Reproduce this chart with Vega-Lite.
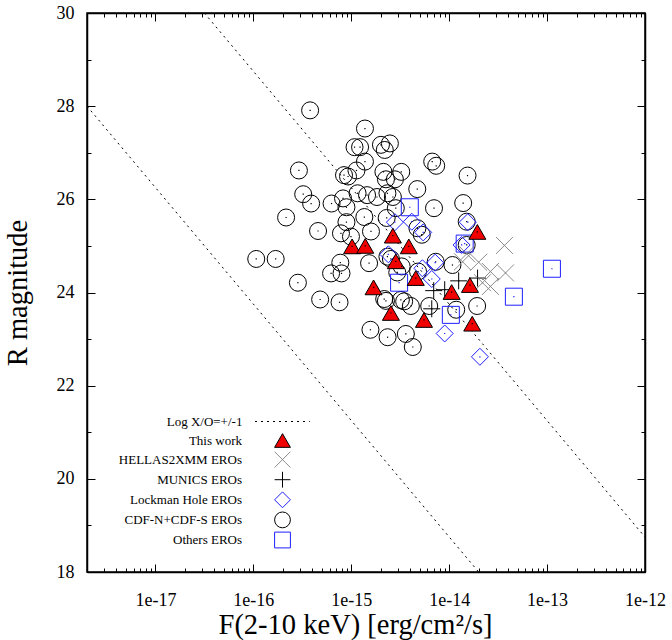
{
  "$schema": "https://vega.github.io/schema/vega-lite/v6.json",
  "autosize": {"type": "none"},
  "width": 558,
  "height": 559,
  "padding": {"left": 87, "top": 13, "right": 27, "bottom": 68},
  "background": "white",
  "config": {
    "font": "Liberation Serif",
    "view": {"stroke": "black", "strokeWidth": 1.5},
    "axis": {
      "grid": false,
      "domainColor": "black",
      "domainWidth": 1.5,
      "tickColor": "black",
      "tickWidth": 1,
      "labelColor": "black",
      "labelFont": "Liberation Serif",
      "labelFontSize": 18,
      "titleFont": "Liberation Serif",
      "titleFontSize": 28.5,
      "titleFontWeight": "normal",
      "titleColor": "black"
    }
  },
  "datasets": {
    "lines": [
      {"f": 3.16e-17, "R": 30, "k": "+1", "name": "Log X/O=+/-1"},
      {"f": 1e-12, "R": 18.75, "k": "+1", "name": "Log X/O=+/-1"},
      {"f": 2e-18, "R": 28.0, "k": "-1", "name": "Log X/O=+/-1"},
      {"f": 2e-14, "R": 18, "k": "-1", "name": "Log X/O=+/-1"}
    ],
    "pts": [
      {"f": 3.80e-16, "R": 27.91, "s": "CDF-N+CDF-S EROs"},
      {"f": 1.38e-15, "R": 27.52, "s": "CDF-N+CDF-S EROs"},
      {"f": 1.08e-15, "R": 27.12, "s": "CDF-N+CDF-S EROs"},
      {"f": 1.23e-15, "R": 27.12, "s": "CDF-N+CDF-S EROs"},
      {"f": 2.01e-15, "R": 27.17, "s": "CDF-N+CDF-S EROs"},
      {"f": 2.20e-15, "R": 27.06, "s": "CDF-N+CDF-S EROs"},
      {"f": 2.48e-15, "R": 27.20, "s": "CDF-N+CDF-S EROs"},
      {"f": 1.38e-15, "R": 26.81, "s": "CDF-N+CDF-S EROs"},
      {"f": 2.92e-16, "R": 26.62, "s": "CDF-N+CDF-S EROs"},
      {"f": 8.43e-16, "R": 26.52, "s": "CDF-N+CDF-S EROs"},
      {"f": 9.27e-16, "R": 26.49, "s": "CDF-N+CDF-S EROs"},
      {"f": 1.13e-15, "R": 26.62, "s": "CDF-N+CDF-S EROs"},
      {"f": 2.13e-15, "R": 26.59, "s": "CDF-N+CDF-S EROs"},
      {"f": 2.26e-15, "R": 26.43, "s": "CDF-N+CDF-S EROs"},
      {"f": 2.79e-15, "R": 26.43, "s": "CDF-N+CDF-S EROs"},
      {"f": 3.24e-15, "R": 26.59, "s": "CDF-N+CDF-S EROs"},
      {"f": 6.71e-15, "R": 26.81, "s": "CDF-N+CDF-S EROs"},
      {"f": 7.37e-15, "R": 26.72, "s": "CDF-N+CDF-S EROs"},
      {"f": 1.54e-14, "R": 26.51, "s": "CDF-N+CDF-S EROs"},
      {"f": 4.72e-15, "R": 26.22, "s": "CDF-N+CDF-S EROs"},
      {"f": 3.23e-16, "R": 26.11, "s": "CDF-N+CDF-S EROs"},
      {"f": 3.89e-16, "R": 25.91, "s": "CDF-N+CDF-S EROs"},
      {"f": 6.29e-16, "R": 25.91, "s": "CDF-N+CDF-S EROs"},
      {"f": 8.24e-16, "R": 26.02, "s": "CDF-N+CDF-S EROs"},
      {"f": 8.93e-16, "R": 25.83, "s": "CDF-N+CDF-S EROs"},
      {"f": 1.16e-15, "R": 26.13, "s": "CDF-N+CDF-S EROs"},
      {"f": 1.45e-15, "R": 26.09, "s": "CDF-N+CDF-S EROs"},
      {"f": 1.83e-15, "R": 26.05, "s": "CDF-N+CDF-S EROs"},
      {"f": 2.34e-15, "R": 26.13, "s": "CDF-N+CDF-S EROs"},
      {"f": 2.66e-15, "R": 26.05, "s": "CDF-N+CDF-S EROs"},
      {"f": 2.85e-15, "R": 25.81, "s": "CDF-N+CDF-S EROs"},
      {"f": 7.00e-15, "R": 25.81, "s": "CDF-N+CDF-S EROs"},
      {"f": 1.39e-14, "R": 25.92, "s": "CDF-N+CDF-S EROs"},
      {"f": 2.16e-16, "R": 25.61, "s": "CDF-N+CDF-S EROs"},
      {"f": 4.58e-16, "R": 25.32, "s": "CDF-N+CDF-S EROs"},
      {"f": 8.93e-16, "R": 25.51, "s": "CDF-N+CDF-S EROs"},
      {"f": 1.36e-15, "R": 25.62, "s": "CDF-N+CDF-S EROs"},
      {"f": 1.59e-15, "R": 25.31, "s": "CDF-N+CDF-S EROs"},
      {"f": 7.85e-16, "R": 25.27, "s": "CDF-N+CDF-S EROs"},
      {"f": 9.93e-16, "R": 25.20, "s": "CDF-N+CDF-S EROs"},
      {"f": 2.30e-15, "R": 25.60, "s": "CDF-N+CDF-S EROs"},
      {"f": 4.74e-15, "R": 25.38, "s": "CDF-N+CDF-S EROs"},
      {"f": 5.25e-15, "R": 25.24, "s": "CDF-N+CDF-S EROs"},
      {"f": 1.51e-14, "R": 25.52, "s": "CDF-N+CDF-S EROs"},
      {"f": 1.51e-14, "R": 25.02, "s": "CDF-N+CDF-S EROs"},
      {"f": 1.07e-16, "R": 24.72, "s": "CDF-N+CDF-S EROs"},
      {"f": 1.69e-16, "R": 24.72, "s": "CDF-N+CDF-S EROs"},
      {"f": 7.73e-16, "R": 24.64, "s": "CDF-N+CDF-S EROs"},
      {"f": 6.22e-16, "R": 24.41, "s": "CDF-N+CDF-S EROs"},
      {"f": 7.95e-16, "R": 24.41, "s": "CDF-N+CDF-S EROs"},
      {"f": 1.52e-15, "R": 24.63, "s": "CDF-N+CDF-S EROs"},
      {"f": 2.34e-15, "R": 24.77, "s": "CDF-N+CDF-S EROs"},
      {"f": 2.54e-15, "R": 24.72, "s": "CDF-N+CDF-S EROs"},
      {"f": 4.81e-15, "R": 24.45, "s": "CDF-N+CDF-S EROs"},
      {"f": 3.27e-15, "R": 24.56, "s": "CDF-N+CDF-S EROs"},
      {"f": 2.95e-15, "R": 24.43, "s": "CDF-N+CDF-S EROs"},
      {"f": 7.28e-15, "R": 24.66, "s": "CDF-N+CDF-S EROs"},
      {"f": 1.08e-14, "R": 24.59, "s": "CDF-N+CDF-S EROs"},
      {"f": 2.85e-16, "R": 24.21, "s": "CDF-N+CDF-S EROs"},
      {"f": 4.81e-16, "R": 23.85, "s": "CDF-N+CDF-S EROs"},
      {"f": 7.59e-16, "R": 23.79, "s": "CDF-N+CDF-S EROs"},
      {"f": 2.17e-15, "R": 23.86, "s": "CDF-N+CDF-S EROs"},
      {"f": 2.26e-15, "R": 23.82, "s": "CDF-N+CDF-S EROs"},
      {"f": 3.21e-15, "R": 23.84, "s": "CDF-N+CDF-S EROs"},
      {"f": 3.47e-15, "R": 23.81, "s": "CDF-N+CDF-S EROs"},
      {"f": 4.06e-15, "R": 23.71, "s": "CDF-N+CDF-S EROs"},
      {"f": 6.25e-15, "R": 23.71, "s": "CDF-N+CDF-S EROs"},
      {"f": 1.18e-14, "R": 23.63, "s": "CDF-N+CDF-S EROs"},
      {"f": 1.93e-14, "R": 23.71, "s": "CDF-N+CDF-S EROs"},
      {"f": 1.57e-15, "R": 23.20, "s": "CDF-N+CDF-S EROs"},
      {"f": 2.35e-15, "R": 23.04, "s": "CDF-N+CDF-S EROs"},
      {"f": 3.61e-15, "R": 23.11, "s": "CDF-N+CDF-S EROs"},
      {"f": 4.25e-15, "R": 22.83, "s": "CDF-N+CDF-S EROs"},
      {"f": 2.79e-15, "R": 25.51, "s": "Lockman Hole EROs"},
      {"f": 4.15e-15, "R": 25.52, "s": "Lockman Hole EROs"},
      {"f": 5.43e-15, "R": 25.29, "s": "Lockman Hole EROs"},
      {"f": 1.55e-14, "R": 25.51, "s": "Lockman Hole EROs"},
      {"f": 2.39e-15, "R": 24.82, "s": "Lockman Hole EROs"},
      {"f": 7.19e-15, "R": 24.64, "s": "Lockman Hole EROs"},
      {"f": 5.33e-15, "R": 24.52, "s": "Lockman Hole EROs"},
      {"f": 6.64e-15, "R": 24.29, "s": "Lockman Hole EROs"},
      {"f": 1.34e-14, "R": 25.02, "s": "Lockman Hole EROs"},
      {"f": 9.0e-15, "R": 23.12, "s": "Lockman Hole EROs"},
      {"f": 2.06e-14, "R": 22.62, "s": "Lockman Hole EROs"},
      {"f": 3.96e-15, "R": 25.83, "s": "Others EROs"},
      {"f": 1.44e-14, "R": 25.05, "s": "Others EROs"},
      {"f": 3.08e-15, "R": 24.21, "s": "Others EROs"},
      {"f": 1.04e-14, "R": 23.52, "s": "Others EROs"},
      {"f": 1.12e-13, "R": 24.51, "s": "Others EROs"},
      {"f": 4.58e-14, "R": 23.91, "s": "Others EROs"},
      {"f": 6.95e-15, "R": 24.04, "s": "MUNICS EROs"},
      {"f": 9.0e-15, "R": 24.06, "s": "MUNICS EROs"},
      {"f": 1.25e-14, "R": 24.25, "s": "MUNICS EROs"},
      {"f": 1.95e-14, "R": 24.31, "s": "MUNICS EROs"},
      {"f": 6.64e-15, "R": 23.65, "s": "MUNICS EROs"},
      {"f": 3.67e-14, "R": 25.01, "s": "HELLAS2XMM EROs"},
      {"f": 1.51e-14, "R": 24.83, "s": "HELLAS2XMM EROs"},
      {"f": 2.0e-14, "R": 24.65, "s": "HELLAS2XMM EROs"},
      {"f": 2.64e-14, "R": 24.45, "s": "HELLAS2XMM EROs"},
      {"f": 3.76e-14, "R": 24.42, "s": "HELLAS2XMM EROs"},
      {"f": 2.64e-14, "R": 24.13, "s": "HELLAS2XMM EROs"},
      {"f": 1.37e-14, "R": 24.66, "s": "HELLAS2XMM EROs"},
      {"f": 2.19e-14, "R": 24.21, "s": "HELLAS2XMM EROs"},
      {"f": 1.02e-15, "R": 24.99, "s": "This work"},
      {"f": 1.39e-15, "R": 25.0, "s": "This work"},
      {"f": 2.66e-15, "R": 25.22, "s": "This work"},
      {"f": 3.87e-15, "R": 24.99, "s": "This work"},
      {"f": 2.85e-15, "R": 24.67, "s": "This work"},
      {"f": 1.94e-14, "R": 25.30, "s": "This work"},
      {"f": 1.69e-15, "R": 24.11, "s": "This work"},
      {"f": 4.56e-15, "R": 24.31, "s": "This work"},
      {"f": 1.06e-14, "R": 24.01, "s": "This work"},
      {"f": 1.63e-14, "R": 24.16, "s": "This work"},
      {"f": 2.54e-15, "R": 23.56, "s": "This work"},
      {"f": 5.53e-15, "R": 23.41, "s": "This work"},
      {"f": 1.72e-14, "R": 23.33, "s": "This work"}
    ]
  },
  "layer": [
    {
      "data": {"name": "lines"},
      "mark": {"type": "line", "color": "black", "strokeWidth": 1, "clip": true},
      "encoding": {
        "x": {
          "field": "f", "type": "quantitative",
          "scale": {"type": "log", "domain": [2e-18, 1e-12], "nice": false},
          "axis": {
            "orient": "bottom",
            "title": "F(2-10 keV) [erg/cm²/s]",
            "titlePadding": -3,
            "titleX": 268,
            "values": [2e-18, 3e-18, 4e-18, 5e-18, 6e-18, 7e-18, 8e-18, 9e-18, 1e-17, 2e-17, 3e-17, 4e-17, 5e-17, 6e-17, 7e-17, 8e-17, 9e-17, 1e-16, 2e-16, 3e-16, 4e-16, 5e-16, 6e-16, 7e-16, 8e-16, 9e-16, 1e-15, 2e-15, 3e-15, 4e-15, 5e-15, 6e-15, 7e-15, 8e-15, 9e-15, 1e-14, 2e-14, 3e-14, 4e-14, 5e-14, 6e-14, 7e-14, 8e-14, 9e-14, 1e-13, 2e-13, 3e-13, 4e-13, 5e-13, 6e-13, 7e-13, 8e-13, 9e-13, 1e-12],
            "labelExpr": "abs(log(datum.value)/LN10 - round(log(datum.value)/LN10)) < 1e-6 ? format(datum.value, '.0e') : ''",
            "tickSize": {"condition": {"test": "abs(log(datum.value)/LN10 - round(log(datum.value)/LN10)) < 1e-6", "value": -8}, "value": -4},
            "labelPadding": 27,
            "labelOverlap": false,
            "labelFlush": false
          }
        },
        "y": {
          "field": "R", "type": "quantitative",
          "scale": {"domain": [18, 30], "nice": false, "zero": false},
          "axis": {
            "orient": "left",
            "title": "R magnitude",
            "titlePadding": 24,
            "values": [18, 19, 20, 21, 22, 23, 24, 25, 26, 27, 28, 29, 30],
            "labelExpr": "datum.value % 2 === 0 ? datum.label : ''",
            "tickSize": {"condition": {"test": "datum.value % 2 === 0", "value": -8}, "value": -4},
            "labelPadding": 21,
            "labelOverlap": false,
            "labelFlush": false
          }
        },
        "detail": {"field": "k"},
        "strokeDash": {
          "field": "name", "type": "nominal",
          "scale": {"domain": ["Log X/O=+/-1"], "range": [[2, 4]]},
          "legend": {
            "title": null, "orient": "none", "legendX": 167.4, "legendY": 380.5,
            "labelAlign": "right", "labelBaseline": "middle", "labelOffset": -68,
            "labelFont": "Liberation Serif", "labelFontSize": 13, "labelColor": "black", "labelLimit": 300,
            "symbolType": "stroke", "symbolSize": 3000, "symbolStrokeWidth": 1, "symbolStrokeColor": "black",
            "padding": 0
          }
        }
      }
    },
    {
      "data": {"name": "pts"},
      "mark": {"type": "point", "filled": false, "strokeWidth": 1, "size": 289, "opacity": 1},
      "encoding": {
        "x": {
          "field": "f", "type": "quantitative",
          "axis": {
            "orient": "top", "title": null, "labels": false,
            "values": [2e-18, 3e-18, 4e-18, 5e-18, 6e-18, 7e-18, 8e-18, 9e-18, 1e-17, 2e-17, 3e-17, 4e-17, 5e-17, 6e-17, 7e-17, 8e-17, 9e-17, 1e-16, 2e-16, 3e-16, 4e-16, 5e-16, 6e-16, 7e-16, 8e-16, 9e-16, 1e-15, 2e-15, 3e-15, 4e-15, 5e-15, 6e-15, 7e-15, 8e-15, 9e-15, 1e-14, 2e-14, 3e-14, 4e-14, 5e-14, 6e-14, 7e-14, 8e-14, 9e-14, 1e-13, 2e-13, 3e-13, 4e-13, 5e-13, 6e-13, 7e-13, 8e-13, 9e-13, 1e-12],
            "tickSize": {"condition": {"test": "abs(log(datum.value)/LN10 - round(log(datum.value)/LN10)) < 1e-6", "value": -8}, "value": -4}
          }
        },
        "y": {
          "field": "R", "type": "quantitative",
          "axis": {
            "orient": "right", "title": null, "labels": false,
            "values": [18, 19, 20, 21, 22, 23, 24, 25, 26, 27, 28, 29, 30],
            "tickSize": {"condition": {"test": "datum.value % 2 === 0", "value": -8}, "value": -4}
          }
        },
        "shape": {
          "field": "s", "type": "nominal", "sort": null,
          "scale": {
            "domain": ["This work", "HELLAS2XMM EROs", "MUNICS EROs", "Lockman Hole EROs", "CDF-N+CDF-S EROs", "Others EROs"],
            "range": ["triangle-up", "M-1,-1L1,1M-1,1L1,-1", "M-1,0L1,0M0,-1L0,1", "diamond", "circle", "square"]
          },
          "legend": {
            "title": null, "orient": "none", "legendX": 187, "legendY": 419,
            "labelAlign": "right", "labelBaseline": "middle", "labelOffset": -49,
            "labelFont": "Liberation Serif", "labelFontSize": 13, "labelColor": "black", "labelLimit": 300,
            "symbolSize": 250, "symbolStrokeWidth": 1, "rowPadding": -0.9, "padding": 0
          }
        },
        "stroke": {
          "field": "s", "type": "nominal", "sort": null,
          "scale": {
            "domain": ["This work", "HELLAS2XMM EROs", "MUNICS EROs", "Lockman Hole EROs", "CDF-N+CDF-S EROs", "Others EROs"],
            "range": ["#000000", "#8c8c8c", "#000000", "#1f1fff", "#000000", "#1f1fff"]
          },
          "legend": {
            "title": null, "orient": "none", "legendX": 187, "legendY": 419,
            "labelAlign": "right", "labelBaseline": "middle", "labelOffset": -49,
            "labelFont": "Liberation Serif", "labelFontSize": 13, "labelColor": "black", "labelLimit": 300,
            "symbolSize": 250, "symbolStrokeWidth": 1, "rowPadding": -0.9, "padding": 0
          }
        },
        "fill": {
          "field": "s", "type": "nominal", "sort": null,
          "scale": {
            "domain": ["This work", "HELLAS2XMM EROs", "MUNICS EROs", "Lockman Hole EROs", "CDF-N+CDF-S EROs", "Others EROs"],
            "range": ["#f00000", "transparent", "transparent", "transparent", "transparent", "transparent"]
          },
          "legend": {
            "title": null, "orient": "none", "legendX": 187, "legendY": 419,
            "labelAlign": "right", "labelBaseline": "middle", "labelOffset": -49,
            "labelFont": "Liberation Serif", "labelFontSize": 13, "labelColor": "black", "labelLimit": 300,
            "symbolSize": 250, "symbolStrokeWidth": 1, "rowPadding": -0.9, "padding": 0
          }
        }
      }
    },
    {
      "data": {"name": "pts"},
      "mark": {"type": "point", "shape": "square", "filled": true, "size": 1.5, "opacity": 1},
      "encoding": {
        "x": {"field": "f", "type": "quantitative", "axis": null},
        "y": {"field": "R", "type": "quantitative", "axis": null},
        "color": {
          "field": "s", "type": "nominal", "legend": null,
          "scale": {
            "domain": ["This work", "HELLAS2XMM EROs", "MUNICS EROs", "Lockman Hole EROs", "CDF-N+CDF-S EROs", "Others EROs"],
            "range": ["#000000", "#8c8c8c", "#000000", "#1f1fff", "#000000", "#1f1fff"]
          }
        }
      }
    }
  ],
  "resolve": {"axis": {"x": "independent", "y": "independent"}}
}
